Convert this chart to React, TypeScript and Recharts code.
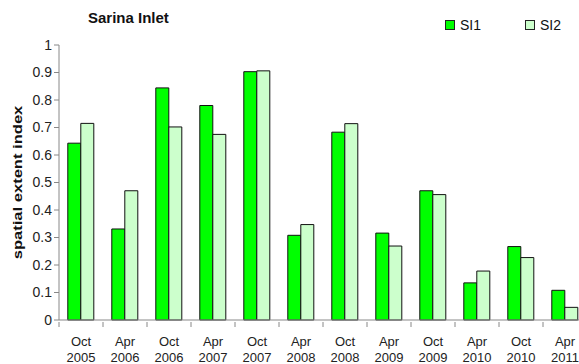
import { Bar, BarChart, Legend, XAxis, YAxis } from "recharts";

const months = ["Oct", "Apr", "Oct", "Apr", "Oct", "Apr", "Oct", "Apr", "Oct", "Apr", "Oct", "Apr"];
const years = ["2005", "2006", "2006", "2007", "2007", "2008", "2008", "2009", "2009", "2010", "2010", "2011"];
const si1 = [0.643, 0.331, 0.844, 0.78, 0.903, 0.308, 0.683, 0.316, 0.47, 0.135, 0.267, 0.108];
const si2 = [0.715, 0.47, 0.702, 0.675, 0.906, 0.347, 0.714, 0.269, 0.456, 0.178, 0.227, 0.046];
const yTicks = [0, 0.1, 0.2, 0.3, 0.4, 0.5, 0.6, 0.7, 0.8, 0.9, 1];

const data = months.map((m, i) => ({ name: `${m} ${years[i]}`, month: m, year: years[i], SI1: si1[i], SI2: si2[i] }));

const FONT = "'Liberation Sans', Arial, sans-serif";
const AXIS = "#888888";

function CategoryTick(props: any) {
    const { x, y, payload } = props;
    const half = payload?.offset ?? 22;
    const d = data[payload.index] ?? data.find((r) => r.name === payload.value);
    return (
        <g>
            <line x1={x - half} x2={x - half} y1={y - 6} y2={y - 1} stroke={AXIS} />
            <text x={x} y={y + 18} textAnchor="middle" fontSize={13} fill="#222" fontFamily={FONT}>
                {d?.month}
            </text>
            <text x={x} y={y + 34} textAnchor="middle" fontSize={13} fill="#222" fontFamily={FONT}>
                {d?.year}
            </text>
        </g>
    );
}

// the original text is stretched along its length, so scale it the same way
function YLabel(props: any) {
    const vb = props.viewBox || { x: 0, y: 29, width: 59, height: 291 };
    const cy = vb.y + vb.height / 2;
    return (
        <text
            transform={`translate(18, ${cy}) rotate(-90) scale(1.38, 1)`}
            textAnchor="middle"
            dominantBaseline="central"
            fontSize={12}
            fontWeight="bold"
            fill="#111"
            fontFamily={FONT}
        >
            spatial extent index
        </text>
    );
}

function LegendBox() {
    const items = [
        { label: "SI1", color: "#00ff00" },
        { label: "SI2", color: "#ccffcc" },
    ];
    return (
        <div style={{ display: "flex", fontFamily: FONT, fontSize: 14, color: "#111" }}>
            {items.map((it) => (
                <div key={it.label} style={{ display: "flex", alignItems: "center", width: 80 }}>
                    <span style={{ display: "inline-block", width: 8, height: 8, background: it.color, border: "1px solid #222", marginRight: 5 }} />
                    {it.label}
                </div>
            ))}
        </div>
    );
}

export default function App() {
    return (
        <div style={{ position: "absolute", left: 0, top: 0, width: 579, height: 364, overflow: "hidden", background: "#fff" }}>
            <div style={{ position: "absolute", left: 88, top: 9, fontFamily: FONT, fontSize: 15, fontWeight: "bold", color: "#111" }}>
                Sarina Inlet
            </div>
            <BarChart
                width={600}
                height={364}
                data={data}
                margin={{ top: 29, right: 13, left: 0, bottom: 0 }}
                barCategoryGap="20%"
                barGap={0}
            >
                <XAxis
                    dataKey="name"
                    interval={0}
                    height={44}
                    stroke={AXIS}
                    tickLine={false}
                    tick={<CategoryTick />}
                />
                <YAxis
                    width={59}
                    domain={[0, 1]}
                    ticks={yTicks}
                    interval={0}
                    stroke={AXIS}
                    tickSize={5}
                    tick={{ fontSize: 14, fill: "#222", fontFamily: FONT }}
                    tickFormatter={(v) => `${v}`}
                    label={<YLabel />}
                />
                <Legend
                    verticalAlign="top"
                    content={<LegendBox />}
                    wrapperStyle={{ position: "absolute", left: 445, top: 17, width: 160 }}
                />
                <Bar dataKey="SI1" fill="#00ff00" stroke="#111" strokeWidth={1} isAnimationActive={false} />
                <Bar dataKey="SI2" fill="#ccffcc" stroke="#111" strokeWidth={1} isAnimationActive={false} />
            </BarChart>
        </div>
    );
}
